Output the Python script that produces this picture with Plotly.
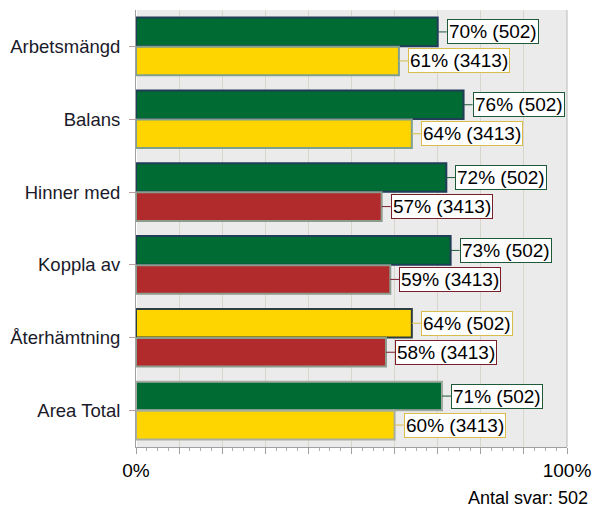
import plotly.graph_objects as go

categories = ["Arbetsmängd", "Balans", "Hinner med", "Koppla av", "Återhämtning", "Area Total"]
pct_502 = [70, 76, 72, 73, 64, 71]
pct_3413 = [61, 64, 57, 59, 58, 60]
n_502 = 502
n_3413 = 3413
color_502 = ["green", "green", "green", "green", "yellow", "green"]
color_3413 = ["yellow", "yellow", "red", "red", "red", "yellow"]
x_tick_vals = [0, 10, 20, 30, 40, 50, 60, 70, 80, 90, 100]
x_tick_text = ["0%", "", "", "", "", "", "", "", "", "", "100%"]
footer = "Antal svar: 502"

FILL = {"green": "#006B32", "yellow": "#FFD500", "red": "#B22B2C"}
LABEL_BORDER = {"green": "#1E5A3A", "yellow": "#D9BC4A", "red": "#7A1F2A"}
BORDER_502 = ["#213D58", "#213D58", "#213D58", "#213D58", "#2E3D3D", "#A3A8A3"]
BORDER_3413 = ["#7FA08E", "#7FA08E", "#8C9C8C", "#8C9C8C", "#8C9C8C", "#A8AFA0"]
FONT = "Liberation Sans, Arial, sans-serif"

fig = go.Figure()
fig.add_trace(go.Bar(
    y=categories, x=pct_502, orientation="h", name=str(n_502),
    marker=dict(color=[FILL[c] for c in color_502], line=dict(color=BORDER_502, width=2)),
))
fig.add_trace(go.Bar(
    y=categories, x=pct_3413, orientation="h", name=str(n_3413),
    marker=dict(color=[FILL[c] for c in color_3413], line=dict(color=BORDER_3413, width=2)),
))

# value labels in boxes, joined to the bar end by a short line
for i, cat in enumerate(categories):
    for trace_idx, (vals, cols, n) in enumerate([(pct_502, color_502, n_502), (pct_3413, color_3413, n_3413)]):
        c = cols[i]
        fig.add_annotation(
            x=vals[i], y=cat, xref="x", yref="y",
            text=f"{vals[i]}% ({n})",
            showarrow=True, arrowhead=0, arrowwidth=1, arrowcolor=LABEL_BORDER[c],
            ax=9, ay=0, xanchor="left",
            yshift=14.5 if trace_idx == 0 else -14.5,
            font=dict(family=FONT, size=19, color="#000"),
            bgcolor="white", bordercolor=LABEL_BORDER[c], borderwidth=1, borderpad=1,
        )

fig.add_annotation(
    text=footer, xref="paper", yref="paper", x=1.053, y=-0.09,
    xanchor="right", yanchor="top", showarrow=False,
    font=dict(family=FONT, size=18, color="#000"),
)

# page body adds an 8px margin, so the figure is 8px smaller than the window
fig.update_layout(
    width=592, height=507,
    margin=dict(l=128, r=33, t=2, b=68),
    paper_bgcolor="white", plot_bgcolor="#EBEBEB",
    barmode="group", bargap=0.2, bargroupgap=0.02,
    showlegend=False,
    font=dict(family=FONT, size=18, color="#1a1a2a"),
)
fig.update_xaxes(
    range=[0, 100], tickvals=x_tick_vals, ticktext=x_tick_text,
    showgrid=True, gridcolor="#D8D6CC",
    ticks="outside", ticklen=6, tickcolor="#A0A0A0",
    minor=dict(dtick=2.5, tick0=0, ticks="outside", ticklen=3, tickcolor="#B0B0B0", showgrid=False),
    showline=True, linecolor="#A0A0A0", mirror=False,
    tickfont=dict(size=19, color="#000"),
)
fig.update_yaxes(
    autorange="reversed", ticks="outside", ticklen=6, tickcolor="#C0A0A0",
    showline=True, linecolor="#A0A0A0", ticklabelstandoff=5,
    tickfont=dict(size=18.5, color="#1a1a2a"),
)
fig.add_shape(type="line", xref="paper", yref="paper", x0=1, x1=1, y0=0, y1=1,
              line=dict(color="#B8B8B8", width=1))

fig.write_html("out.html")
